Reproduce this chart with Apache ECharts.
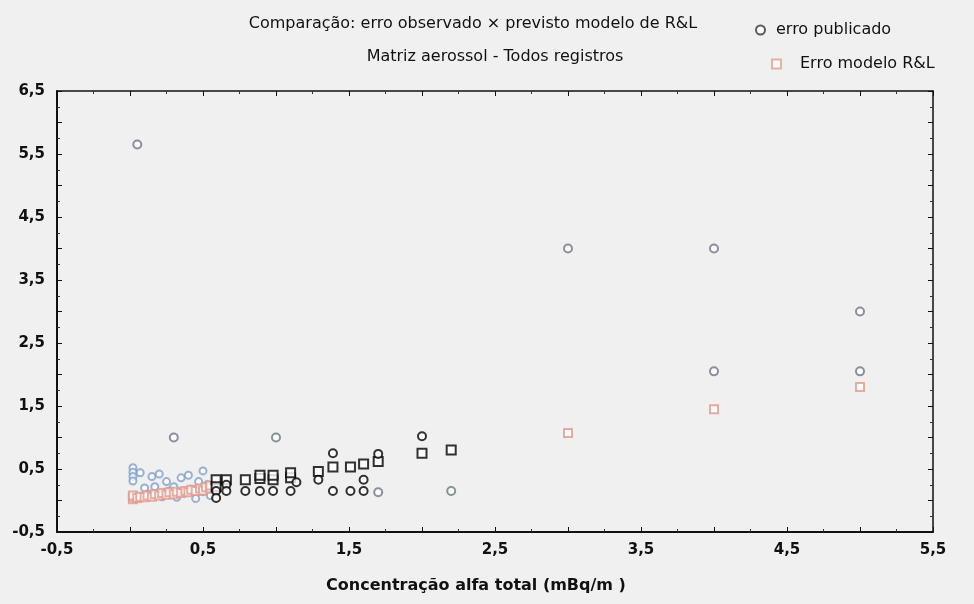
<!DOCTYPE html>
<html>
<head>
<meta charset="utf-8">
<script src="https://cdn.jsdelivr.net/npm/echarts@6/dist/echarts.min.js"></script>
<style>
  html, body { margin: 0; padding: 0; background: #f0f0f0; }
  #chart { width: 974px; height: 604px; }
</style>
</head>
<body>
<div id="chart"></div>
<script>
// Observed (published) error, low concentrations
const publicadoBaixo = [
  [0.02, 0.52], [0.02, 0.45], [0.02, 0.38], [0.02, 0.31], [0.07, 0.44], [0.10, 0.20],
  [0.12, 0.10], [0.15, 0.38], [0.17, 0.22], [0.20, 0.42], [0.22, 0.06], [0.25, 0.30],
  [0.27, 0.15], [0.30, 0.22], [0.32, 0.05], [0.35, 0.36], [0.37, 0.12], [0.40, 0.40],
  [0.42, 0.18], [0.45, 0.03], [0.47, 0.30], [0.50, 0.47], [0.50, 0.14], [0.53, 0.25],
  [0.55, 0.08]
];
// Observed (published) error, intermediate concentrations
const publicadoMedio = [
  [0.59, 0.15], [0.59, 0.04], [0.66, 0.25], [0.66, 0.15], [0.79, 0.15], [0.89, 0.15],
  [0.98, 0.15], [1.10, 0.15], [1.14, 0.29], [1.29, 0.33], [1.39, 0.75], [1.39, 0.15],
  [1.51, 0.15], [1.60, 0.15], [1.60, 0.33], [1.70, 0.74], [2.00, 1.02]
];
// Observed (published) error, isolated records
const publicadoIsolado = [
  [0.05, 5.65], [0.30, 1.00], [1.00, 1.00], [1.70, 0.13], [2.20, 0.15],
  [3.00, 4.00], [4.00, 4.00], [4.00, 2.05], [5.00, 3.00], [5.00, 2.05]
];
// R&L model error, low concentrations
const modeloBaixo = [
  [0.02, 0.02], [0.02, 0.05], [0.02, 0.08], [0.05, 0.04], [0.07, 0.06], [0.10, 0.05],
  [0.12, 0.08], [0.15, 0.06], [0.17, 0.10], [0.20, 0.08], [0.22, 0.12], [0.25, 0.09],
  [0.27, 0.13], [0.30, 0.10], [0.32, 0.14], [0.35, 0.12], [0.38, 0.15], [0.40, 0.13],
  [0.42, 0.17], [0.45, 0.15], [0.48, 0.19], [0.50, 0.16], [0.52, 0.21], [0.55, 0.19],
  [0.55, 0.24]
];
// R&L model error, intermediate concentrations
const modeloMedio = [
  [0.59, 0.33], [0.59, 0.22], [0.66, 0.33], [0.79, 0.33], [0.89, 0.35], [0.89, 0.40],
  [0.98, 0.33], [0.98, 0.40], [1.10, 0.36], [1.10, 0.44], [1.29, 0.46], [1.39, 0.53],
  [1.51, 0.53], [1.60, 0.58], [1.70, 0.62], [2.00, 0.75], [2.20, 0.80]
];
// R&L model error, high concentrations
const modeloAlto = [[3.00, 1.07], [4.00, 1.45], [5.00, 1.80]];

const tituloLinhas = [
  'Comparação: erro observado × previsto modelo de R&L',
  'Matriz aerossol - Todos registros'
];
const nomeEixoX = 'Concentração alfa total (mBq/m )';
const nomesSeries = ['erro publicado', 'Erro modelo R&L'];

const FONT = 'DejaVu Sans, Verdana, sans-serif';
// label only the odd half-steps (-0,5; 0,5; 1,5 ...)
const fmt = v => {
  const r = Math.abs((v + 0.5) - Math.round(v + 0.5));
  return r < 1e-6 ? v.toFixed(1).replace('.', ',') : '';
};

const baseAxis = {
  min: -0.5, interval: 0.5,
  axisLine: { show: true, onZero: false, lineStyle: { color: '#111', width: 2 } },
  axisTick: { show: true, inside: true, length: 5, lineStyle: { color: '#111', width: 1 } },
  minorTick: { show: true, splitNumber: 2, length: 3, lineStyle: { color: '#333', width: 1 } },
  splitLine: { show: false },
  axisLabel: { show: false }
};

const chart = echarts.init(document.getElementById('chart'));

function scatter(name, data, symbol, color, size) {
  return {
    type: 'scatter', name, data, symbol, symbolSize: size,
    itemStyle: { color: color, borderColor: color, borderWidth: 1.5 },
    emphasis: { disabled: true }
  };
}

chart.setOption({
  backgroundColor: '#f0f0f0',
  animation: false,
  title: [
    { text: tituloLinhas[0], left: 468, top: 11, textAlign: 'center',
      textStyle: { fontFamily: FONT, fontSize: 16, fontWeight: 'normal', color: '#111' } },
    { text: tituloLinhas[1], left: 490, top: 44, textAlign: 'center',
      textStyle: { fontFamily: FONT, fontSize: 16, fontWeight: 'normal', color: '#111' } }
  ],
  legend: [
    { data: [{ name: nomesSeries[0], icon: 'emptyCircle', itemStyle: { color: '#333', borderColor: '#333' } }],
      left: 755, top: 22, itemWidth: 9, itemHeight: 9, itemGap: 6, padding: 0,
      textStyle: { fontFamily: FONT, fontSize: 16, color: '#111', padding: [0, 0, 0, 6] } },
    { data: [{ name: nomesSeries[1], icon: 'emptyRect', itemStyle: { color: '#e0a090', borderColor: '#e0a090' } }],
      left: 771, top: 56, itemWidth: 9, itemHeight: 9, itemGap: 6, padding: 0,
      textStyle: { fontFamily: FONT, fontSize: 16, color: '#111', padding: [0, 0, 0, 14] } }
  ],
  grid: { left: 57, right: 41, top: 91, bottom: 72, show: false },
  xAxis: [
    Object.assign({}, baseAxis, {
      type: 'value', max: 5.5, position: 'bottom',
      axisLabel: { show: true, formatter: fmt, margin: 11, color: '#111', fontFamily: FONT, fontSize: 15, fontWeight: 'bold' },
      name: nomeEixoX, nameLocation: 'middle', nameGap: 46,
      nameTextStyle: { fontFamily: FONT, fontSize: 16, fontWeight: 'bold', color: '#111', padding: [0, 38, 0, 0] }
    }),
    Object.assign({}, baseAxis, { type: 'value', max: 5.5, position: 'top',
      axisLine: { show: true, onZero: false, lineStyle: { color: '#111', width: 1.5 } } })
  ],
  yAxis: [
    Object.assign({}, baseAxis, {
      type: 'value', max: 6.5, position: 'left',
      axisLabel: { show: true, formatter: fmt, margin: 12, color: '#111', fontFamily: FONT, fontSize: 15, fontWeight: 'bold' }
    }),
    Object.assign({}, baseAxis, { type: 'value', max: 6.5, position: 'right',
      axisLine: { show: true, onZero: false, lineStyle: { color: '#111', width: 1.5 } } })
  ],
  series: [
    scatter(nomesSeries[0], publicadoBaixo, 'emptyCircle', '#7f9fcc', 7),
    scatter(nomesSeries[1], modeloBaixo, 'emptyRect', '#e29a8c', 8),
    scatter(nomesSeries[0], publicadoIsolado, 'emptyCircle', '#707682', 8),
    scatter(nomesSeries[1], modeloAlto, 'emptyRect', '#e29a8c', 8),
    scatter(nomesSeries[1], modeloMedio, 'emptyRect', '#000', 9),
    scatter(nomesSeries[0], publicadoMedio, 'emptyCircle', '#000', 8)
  ]
});
</script>
</body>
</html>
